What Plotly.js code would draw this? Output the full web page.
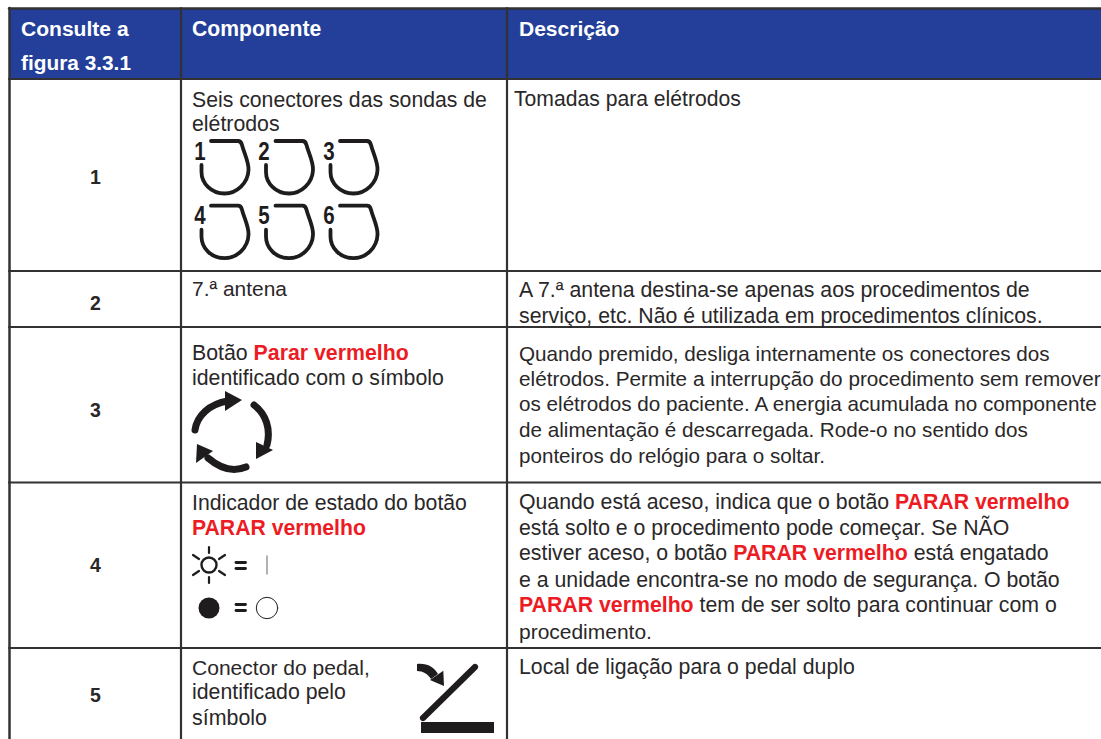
<!DOCTYPE html>
<html><head><meta charset="utf-8">
<script src="https://cdn.plot.ly/plotly-3.0.1.min.js"></script>
<style>html,body{margin:0;padding:0;background:#fff}
#c{width:1101px;height:739px}
.shapelayer path{stroke-linecap:round;stroke-linejoin:round}
#m{position:absolute;visibility:hidden;white-space:pre;font:100px "Liberation Sans",Arial,sans-serif}</style>
</head><body><div id="c"></div><span id="m"></span>
<script>
const RED='#ed1c24', INK='#2a2728', GLYPH='#1f1c1d', BLUE='#233f99', RULE='#333132';
const red=t=>'<b><span style="color:'+RED+'">'+t+'</span></b>';

// text
const headerText=['Consulte a','figura 3.3.1','Componente','Descrição'];
const rowNumbers=['1','2','3','4','5'];
const componentText=['Seis conectores das sondas de','elétrodos','7.ª antena','Botão '+red('Parar vermelho'),'identificado com o símbolo',
 'Indicador de estado do botão',red('PARAR vermelho'),'Conector do pedal,','identificado pelo','símbolo'];
const descriptionText=['Tomadas para elétrodos',
 'A 7.ª antena destina-se apenas aos procedimentos de',
 'serviço, etc. Não é utilizada em procedimentos clínicos.',
 'Quando premido, desliga internamente os conectores dos',
 'elétrodos. Permite a interrupção do procedimento sem remover',
 'os elétrodos do paciente. A energia acumulada no componente',
 'de alimentação é descarregada. Rode-o no sentido dos',
 'ponteiros do relógio para o soltar.',
 'Quando está aceso, indica que o botão '+red('PARAR vermelho'),
 'está solto e o procedimento pode começar. Se NÃO',
 'estiver aceso, o botão '+red('PARAR vermelho')+' está engatado',
 'e a unidade encontra-se no modo de segurança. O botão',
 red('PARAR vermelho')+' tem de ser solto para continuar com o',
 'procedimento.',
 'Local de ligação para o pedal duplo'];
const connectorLabels=['1','2','3','4','5','6'];

// layout
const headerX=[20,20,191,517.5], headerY=[28,62,28.5,28], headerW=[107.7,110,129.3,100.4];
const rowNumberY=[177,303,410,565,695];
const componentY=[99,124,288,353,378,502,527,667,692,718];
const componentW=[295,87.7,95,216.7,252,275,174,178,154,75];
const descriptionY=[99,290,316,353,378,403,429,455,502,527,553,580,605,631,667];
const descriptionW=[227,511,524,531,582,578,509,306,551,490.5,530,541,538,133,336];
const connectorX=[0,64.5,129,0,64.5,129];
const connectorY=[0,0,0,64.7,64.7,64.7];
const columnRules=[9.5,181,507];
const rowRules=[8.5,79,271,327,482.5,648];

const FONT='"Liberation Sans",Arial,sans-serif';
const probe=document.getElementById('m');
const fit=(html,w)=>{probe.innerHTML=html;return 100*w/probe.getBoundingClientRect().width;};
const ann=(x,y,t,o={})=>Object.assign({x,y,text:t,xref:'x',yref:'y',showarrow:false,xanchor:'left',yanchor:'middle',borderpad:0},o);
const annotations=[];
headerText.forEach((t,i)=>{const h='<b>'+t+'</b>';annotations.push(ann(headerX[i],headerY[i],h,{font:{family:FONT,size:fit(h,headerW[i]),color:'#fff'}}));});
rowNumbers.forEach((n,i)=>annotations.push(ann(95,rowNumberY[i],'<b>'+n+'</b>',{xanchor:'center',font:{family:FONT,size:19.5,color:INK}})));
componentText.forEach((t,i)=>annotations.push(ann(191,componentY[i],t,{font:{family:FONT,size:fit(t,componentW[i]),color:INK}})));
descriptionText.forEach((t,i)=>annotations.push(ann(i?517.5:513,descriptionY[i],t,{font:{family:FONT,size:fit(t,descriptionW[i]),color:INK}})));
const firstLabel=annotations.length;
connectorLabels.forEach((n,i)=>annotations.push(ann(199.5+connectorX[i],150.5+connectorY[i],'<b>'+n+'</b>',{xanchor:'center',font:{family:FONT,size:25,color:GLYPH}})));

const ln=(x0,y0,x1,y1,w,c)=>({type:'line',x0,y0,x1,y1,xref:'x',yref:'y',line:{width:w,color:c||RULE},layer:'above'});
const pth=(path,w,fill,c)=>({type:'path',path,xref:'x',yref:'y',layer:'above',fillcolor:fill||'rgba(0,0,0,0)',line:{width:w,color:c||GLYPH}});
const circ=(cx,cy,r,w,fill)=>({type:'circle',x0:cx-r,x1:cx+r,y0:cy-r,y1:cy+r,xref:'x',yref:'y',layer:'above',fillcolor:fill||'rgba(0,0,0,0)',line:{width:w,color:GLYPH}});
const rect=(x0,y0,x1,y1,fill,layer)=>({type:'rect',x0,y0,x1,y1,xref:'x',yref:'y',layer:layer||'below',fillcolor:fill,line:{width:0}});

const shapes=[rect(9,8,1101,79,BLUE)];
columnRules.forEach(x=>shapes.push(ln(x,8,x,739,x<100?2.5:2.2)));
rowRules.forEach(y=>shapes.push(ln(9,y,1101,y,y<20?2.5:2.2)));
connectorX.forEach((dx,i)=>{const dy=connectorY[i];const X=v=>v+dx,Y=v=>v+dy;
 shapes.push(pth(`M${X(211)},${Y(141)} L${X(238)},${Y(141)} C${X(241)},${Y(141)} ${X(241.5)},${Y(143)} ${X(242)},${Y(145)} C${X(244)},${Y(153)} ${X(249)},${Y(162)} ${X(248.5)},${Y(170)} C${X(248)},${Y(183)} ${X(237)},${Y(193.5)} ${X(224.5)},${Y(193.5)} C${X(211)},${Y(193.5)} ${X(201.5)},${Y(183)} ${X(201.5)},${Y(172)} L${X(201.5)},${Y(165)}`,3.8));
});
// stop symbol
shapes.push(pth('M195,430 C197,416 209,404 228,401',7));
shapes.push(pth('M242,400 L225,391 L225,411 Z',0,GLYPH));
shapes.push(pth('M254,405 C266,414 271,429 267,445',7));
shapes.push(pth('M273,450 L256,442 L256,459 Z',0,GLYPH));
shapes.push(pth('M246,467 C234,472 222,470 208,458',7));
shapes.push(pth('M197,444 L196,463 L213,451 Z',0,GLYPH));
// status indicator
shapes.push(circ(209,565,7.5,2.4));
[[209,547,209,553],[209,577,209,583],[193,555,199,559],[225,555,219,559],[193,575,199,571],[225,575,219,571]].forEach(s=>shapes.push(ln(s[0],s[1],s[2],s[3],2.2,GLYPH)));
[562.5,568.5,604.5,610.5].forEach(y=>shapes.push(ln(236,y,245.5,y,2.8,GLYPH)));
shapes.push(ln(267,556,267,574,1.3,'#888'));
shapes.push(circ(209,608,10.5,0,GLYPH));
shapes.push(circ(267,608,10.7,1));
// pedal
shapes.push(ln(423,718,475,667,6.2,GLYPH));
shapes.push(rect(421,722,494,733,GLYPH,'above'));
shapes.push(pth('M417,664 C427,663 434,667 438,674 L431,679 C428,674 423,671 417,671 Z',0,GLYPH));
shapes.push(pth('M444,686 L430,680 L443.3,670.7 Z',0,GLYPH));

Plotly.newPlot('c',[{type:'scatter',x:[],y:[],hoverinfo:'skip'}],{
 width:1101,height:739,margin:{l:0,r:0,t:0,b:0},paper_bgcolor:'#fff',plot_bgcolor:'#fff',showlegend:false,
 xaxis:{range:[0,1101],visible:false,fixedrange:true},
 yaxis:{range:[739,0],visible:false,fixedrange:true},
 shapes,annotations},{displayModeBar:false,staticPlot:true}).then(gd=>{
  gd.querySelectorAll('.annotation').forEach(g=>{
   if(+g.getAttribute('data-index')>=firstLabel){const t=g.querySelector('text');
    t.style.transformBox='fill-box';t.style.transformOrigin='center';t.style.transform='scaleX(.82)';}
  });
 });
</script></body></html>
